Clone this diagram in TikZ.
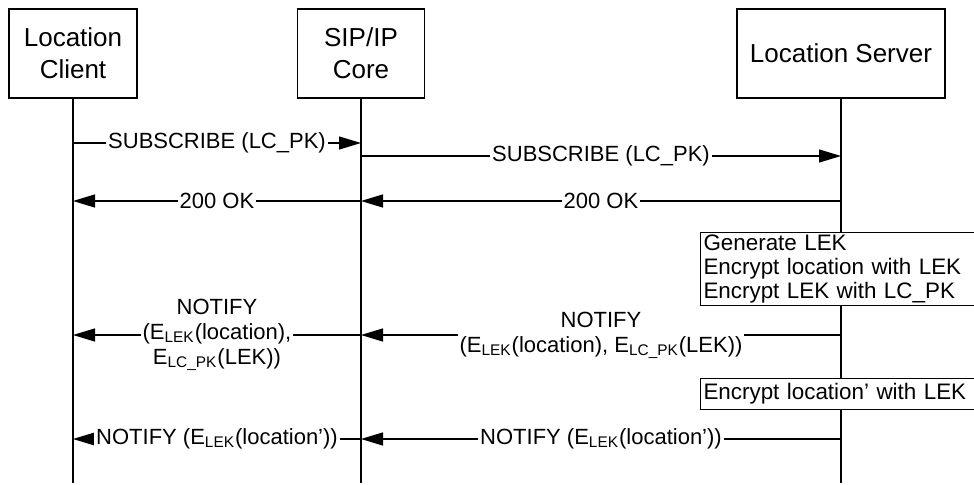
\documentclass[tikz,border=0pt]{standalone}
\usepackage{fontspec}
\setmainfont{Liberation Sans}
\usetikzlibrary{arrows.meta}
\usetikzlibrary{positioning}
\tikzset{
    actor/.style={
        draw,
        rectangle,
        fill=white,
        align=center,
        minimum height=44.5pt,
        line width=0.6pt,
        font=\fontsize{13}{16}\selectfont
    },
    life/.style={
        draw,
        line width=0.6pt
    },
    msg/.style={
        draw,
        line width=0.6pt,
        -{Triangle[length=11pt, width=6.5pt]}
    },
    lbl/.style={
        fill=white,
        inner sep=1pt,
        align=center,
        font=\fontsize{11}{12.5}\selectfont
    },
    notebox/.style={
        draw,
        fill=white,
        anchor=north west,
        align=left,
        text width=138pt,
        inner xsep=1.5pt,
        inner ysep=1pt,
        line width=0.5pt,
        font=\fontsize{11.2}{12}\selectfont
    }
}

\begin{document}
\begin{tikzpicture}[x=0.5pt, y=-0.5pt]
    \useasboundingbox (0,0) rectangle (974,485);

    % Participants
    \node[actor, minimum width=64pt] (lc) at (73,53.5) {Location\\Client};
    \node[actor, minimum width=63.5pt] (core) at (361,53.5) {SIP/IP\\Core};
    \node[actor, minimum width=104pt] (ls) at (841,53.5) {Location Server};

    % Lifelines
    \coordinate (lcend) at (73,483);
    \coordinate (coreend) at (361,483);
    \coordinate (lsend) at (841,483);
    \draw[life] (lc) -- (lcend);
    \draw[life] (core) -- (coreend);
    \draw[life] (ls) -- (lsend);

    % Rows
    \coordinate (r1) at (0,143);
    \coordinate (r2) at (0,156);
    \coordinate (r3) at (0,201);
    \coordinate (r4) at (0,335);
    \coordinate (r5) at (0,439);

    % Subscribe
    \draw[msg] (lc |- r1) -- node[lbl] {SUBSCRIBE (LC\_PK)} (core |- r1);
    \draw[msg] (core |- r2) -- node[lbl] {SUBSCRIBE (LC\_PK)} (ls |- r2);

    % 200 OK
    \draw[msg] (ls |- r3) -- node[lbl] {200 OK} (core |- r3);
    \draw[msg] (core |- r3) -- node[lbl] {200 OK} (lc |- r3);

    % Key generation at the server
    \node[notebox, minimum height=36.5pt] (gen) at (700,232)
        {Generate LEK\\Encrypt location with LEK\\Encrypt LEK with LC\_PK};

    % First notify
    \draw[msg] (ls |- r4) -- node[lbl]
        {NOTIFY\\(E\textsubscript{LEK}(location), E\textsubscript{LC\_PK}(LEK))} (core |- r4);
    \draw[msg] (core |- r4) -- node[lbl]
        {NOTIFY\\(E\textsubscript{LEK}(location),\\E\textsubscript{LC\_PK}(LEK))} (lc |- r4);

    % New location
    \node[notebox, minimum height=15.5pt] (enc) at (700,378)
        {Encrypt location’ with LEK};

    % Second notify
    \draw[msg] (ls |- r5) -- node[lbl]
        {NOTIFY (E\textsubscript{LEK}(location’))} (core |- r5);
    \draw[msg] (core |- r5) -- node[lbl]
        {NOTIFY (E\textsubscript{LEK}(location’))} (lc |- r5);
\end{tikzpicture}
\end{document}
